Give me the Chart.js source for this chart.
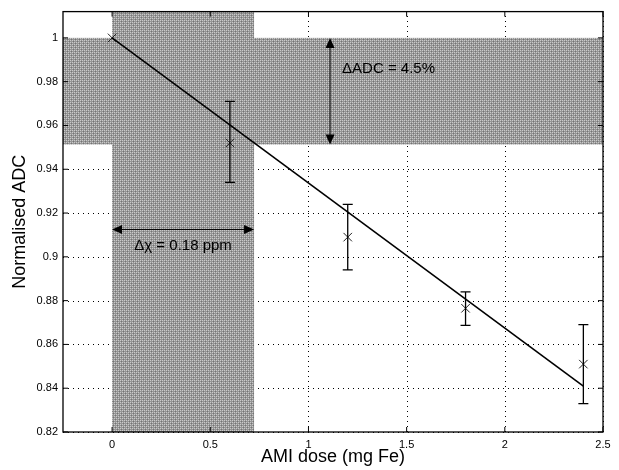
<!DOCTYPE html>
<html>
<head>
<meta charset="utf-8">
<script src="https://cdn.jsdelivr.net/npm/chart.js@4"></script>
<style>
html,body{margin:0;padding:0;background:#fff;}
#wrap{width:619px;height:470px;}
</style>
</head>
<body>
<div id="wrap"><canvas id="c" width="619" height="470"></canvas></div>
<script>
// ---- data ----
const doseX   = [0, 0.6, 1.2, 1.8, 2.4];
const adcY    = [1, 0.952, 0.909, 0.8765, 0.851];
const errLow  = [null, 0.934, 0.894, 0.8687, 0.833];
const errHigh = [null, 0.971, 0.924, 0.884, 0.869];
const fitX    = [0, 2.4];
const fitY    = [1, 0.841];
const xTicks  = [0, 0.5, 1, 1.5, 2, 2.5];
const yTicks  = [0.82, 0.84, 0.86, 0.88, 0.9, 0.92, 0.94, 0.96, 0.98, 1];
const bandY   = [0.9513, 1];      // horizontal shaded band (ADC range)
const bandX   = [0, 0.723];       // vertical shaded band (dose range)
const arrowVX = 1.11;             // x of the ΔADC arrow
const arrowHY = 0.9125;           // y of the Δχ arrow
const labelADC = 'ΔADC = 4.5%';
const labelChi = 'Δχ = 0.18 ppm';

const FONT = '"Liberation Sans", Arial, Helvetica, sans-serif';

function makePattern(ctx){
  const p = document.createElement('canvas');
  p.width = 4; p.height = 4;
  const g = p.getContext('2d');
  g.fillStyle = '#959595'; g.fillRect(0,0,4,4);
  g.fillStyle = '#cacaca';
  g.fillRect(0,0,1,1); g.fillRect(2,2,1,1); g.fillRect(2,0,1,1); g.fillRect(0,2,1,1);
  g.fillStyle = '#747474';
  g.fillRect(1,1,1,1); g.fillRect(3,3,1,1);
  return ctx.createPattern(p,'repeat');
}

function arrowHead(ctx, x, y, dir){
  const L = 10, W = 4.5;
  ctx.beginPath();
  if (dir==='up'){ ctx.moveTo(x,y); ctx.lineTo(x-W,y+L); ctx.lineTo(x+W,y+L); }
  if (dir==='down'){ ctx.moveTo(x,y); ctx.lineTo(x-W,y-L); ctx.lineTo(x+W,y-L); }
  if (dir==='left'){ ctx.moveTo(x,y); ctx.lineTo(x+L,y-W); ctx.lineTo(x+L,y+W); }
  if (dir==='right'){ ctx.moveTo(x,y); ctx.lineTo(x-L,y-W); ctx.lineTo(x-L,y+W); }
  ctx.closePath(); ctx.fill();
}

const decor = {
  id: 'decor',
  beforeDatasetsDraw(chart){
    const {ctx, chartArea: a, scales: {x, y}} = chart;
    ctx.save();
    // dotted grid
    ctx.strokeStyle = '#000'; ctx.lineWidth = 1;
    ctx.setLineDash([1, 4]);
    ctx.beginPath();
    xTicks.forEach(v => {
      const px = Math.round(x.getPixelForValue(v)) + 0.5;
      ctx.moveTo(px, a.bottom); ctx.lineTo(px, a.top);
    });
    yTicks.forEach(v => {
      const py = Math.round(y.getPixelForValue(v)) + 0.5;
      ctx.moveTo(a.left, py); ctx.lineTo(a.right, py);
    });
    ctx.stroke();
    ctx.setLineDash([]);
    // shading
    ctx.fillStyle = makePattern(ctx);
    const yt = y.getPixelForValue(bandY[1]), yb = y.getPixelForValue(bandY[0]);
    ctx.fillRect(a.left, yt, a.right - a.left, yb - yt);
    const xl = x.getPixelForValue(bandX[0]), xr = x.getPixelForValue(bandX[1]);
    ctx.fillRect(xl, a.top, xr - xl, a.bottom - a.top);
    // frame
    ctx.strokeStyle = '#000'; ctx.lineWidth = 1.3;
    ctx.strokeRect(a.left, a.top, a.right - a.left, a.bottom - a.top);
    // inward tick marks
    ctx.lineWidth = 1;
    ctx.beginPath();
    xTicks.forEach(v => {
      const px = x.getPixelForValue(v);
      ctx.moveTo(px, a.bottom); ctx.lineTo(px, a.bottom - 5);
      ctx.moveTo(px, a.top); ctx.lineTo(px, a.top + 5);
    });
    yTicks.forEach(v => {
      const py = y.getPixelForValue(v);
      ctx.moveTo(a.left, py); ctx.lineTo(a.left + 5, py);
      ctx.moveTo(a.right, py); ctx.lineTo(a.right - 5, py);
    });
    ctx.stroke();
    ctx.restore();
  },
  afterDatasetsDraw(chart){
    const {ctx, scales: {x, y}} = chart;
    ctx.save();
    ctx.strokeStyle = '#000'; ctx.fillStyle = '#000'; ctx.lineWidth = 1.3;
    doseX.forEach((dx, i) => {
      if (errLow[i] == null) return;
      const px = x.getPixelForValue(dx);
      const p1 = y.getPixelForValue(errLow[i]), p2 = y.getPixelForValue(errHigh[i]);
      ctx.beginPath();
      ctx.moveTo(px, p1); ctx.lineTo(px, p2);
      ctx.moveTo(px - 5, p1); ctx.lineTo(px + 5, p1);
      ctx.moveTo(px - 5, p2); ctx.lineTo(px + 5, p2);
      ctx.stroke();
    });
    const ax = x.getPixelForValue(arrowVX);
    const ay1 = y.getPixelForValue(bandY[1]), ay2 = y.getPixelForValue(bandY[0]);
    ctx.lineWidth = 1;
    ctx.beginPath(); ctx.moveTo(ax, ay1 + 6); ctx.lineTo(ax, ay2 - 6); ctx.stroke();
    arrowHead(ctx, ax, ay1, 'up'); arrowHead(ctx, ax, ay2, 'down');
    const hy = y.getPixelForValue(arrowHY);
    const hx1 = x.getPixelForValue(bandX[0]), hx2 = x.getPixelForValue(bandX[1]);
    ctx.beginPath(); ctx.moveTo(hx1 + 6, hy); ctx.lineTo(hx2 - 6, hy); ctx.stroke();
    arrowHead(ctx, hx1, hy, 'left'); arrowHead(ctx, hx2, hy, 'right');
    ctx.font = '15px ' + FONT;
    ctx.textBaseline = 'middle';
    ctx.textAlign = 'left';
    ctx.fillText(labelADC, ax + 12, ay1 + 31);
    ctx.textAlign = 'center';
    ctx.fillText(labelChi, (hx1 + hx2) / 2, hy + 16);
    ctx.restore();
  }
};

const fmt = v => Number(v.toFixed(2)).toString();

new Chart(document.getElementById('c'), {
  type: 'scatter',
  data: {
    datasets: [
      {
        type: 'line',
        data: fitX.map((v, i) => ({x: v, y: fitY[i]})),
        borderColor: '#000', borderWidth: 1.6,
        pointRadius: 0, fill: false, tension: 0
      },
      {
        data: doseX.map((v, i) => ({x: v, y: adcY[i]})),
        pointStyle: 'crossRot', pointRadius: 6,
        borderColor: '#222', backgroundColor: '#222', pointBorderWidth: 1
      }
    ]
  },
  plugins: [decor],
  options: {
    responsive: false,
    animation: false,
    events: [],
    layout: {padding: {left: 0, right: 16, top: 7, bottom: 0}},
    plugins: {legend: {display: false}, tooltip: {enabled: false}},
    scales: {
      x: {
        type: 'linear', min: -0.25, max: 2.5,
        afterBuildTicks: s => { s.ticks = xTicks.map(v => ({value: v})); },
        afterFit: s => { s.height = 38; },
        grid: {display: false, drawTicks: false},
        border: {display: false},
        ticks: {color: '#000', font: {family: FONT, size: 11}, padding: 6, callback: v => fmt(v), maxRotation: 0},
        title: {display: true, text: 'AMI dose (mg Fe)', color: '#000', font: {family: FONT, size: 18}, padding: {top: 0, bottom: 2}}
      },
      y: {
        type: 'linear', min: 0.82, max: 1.012,
        afterBuildTicks: s => { s.ticks = yTicks.map(v => ({value: v})); },
        afterFit: s => { s.width = 63; },
        grid: {display: false, drawTicks: false},
        border: {display: false},
        ticks: {color: '#000', font: {family: FONT, size: 11}, padding: 5, callback: v => fmt(v)},
        title: {display: true, text: 'Normalised ADC', color: '#000', font: {family: FONT, size: 18}, padding: {top: 9, bottom: 0}}
      }
    }
  }
});
</script>
</body>
</html>
